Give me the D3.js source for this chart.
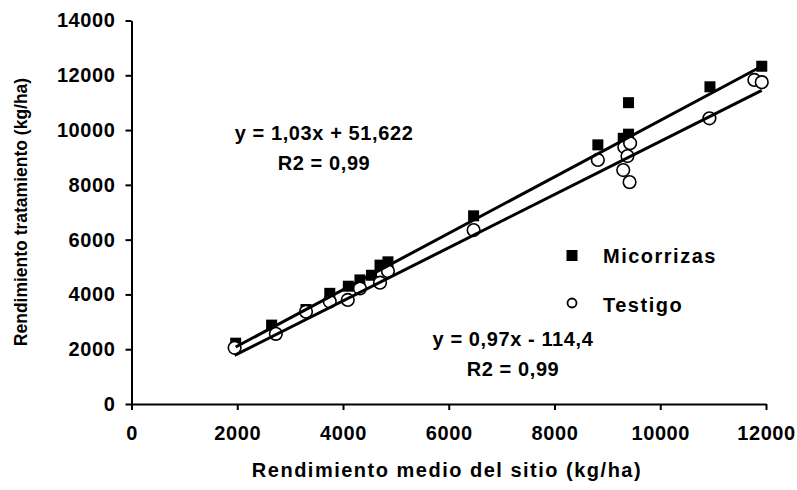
<!DOCTYPE html>
<html>
<head>
<meta charset="utf-8">
<script src="https://cdn.jsdelivr.net/npm/d3@7"></script>
<style>
  html, body { margin: 0; padding: 0; background: #fff; }
  svg text { font-family: "Liberation Sans", Arial, sans-serif; font-weight: bold; fill: #000; }
</style>
</head>
<body>
<svg id="chart" width="797" height="490"></svg>
<script>
// Rendimiento medio del sitio (x) and treatment yields (y), kg/ha
const sitioMicorrizas = [1970, 2650, 3300, 3750, 4100, 4320, 4540, 4700, 4850, 6470, 8820, 9300, 9400, 9400, 10940, 11920];
const micorrizas      = [2220, 2880, 3450, 4040, 4300, 4530, 4700, 5070, 5190, 6870, 9460, 9700, 9850, 11000, 11580, 12330];
const sitioTestigo    = [1950, 2730, 3300, 3750, 4090, 4320, 4700, 4850, 6470, 8820, 9320, 9430, 9380, 9300, 9420, 10930, 11780, 11920];
const testigo         = [2050, 2560, 3370, 3740, 3800, 4220, 4430, 4850, 6350, 8910, 9380, 9520, 9050, 8540, 8100, 10430, 11830, 11750];

// Linear fits: [slope, intercept]
const fitMicorrizas = [1.03, 51.622];
const fitTestigo = [0.97, -114.4];

const xTicks = [0, 2000, 4000, 6000, 8000, 10000, 12000];
const yTicks = [0, 2000, 4000, 6000, 8000, 10000, 12000, 14000];

const svg = d3.select("#chart");

const x = d3.scaleLinear().domain([0, 12000]).range([131.5, 766]);
const y = d3.scaleLinear().domain([0, 14000]).range([404, 20.5]);

// Axes
const xAxis = d3.axisBottom(x).tickValues(xTicks).tickSize(6).tickSizeOuter(0).tickFormat(d3.format("d")).tickPadding(16);
const yAxis = d3.axisLeft(y).tickValues(yTicks).tickSize(6).tickSizeOuter(0).tickFormat(d3.format("d")).tickPadding(10);

const gx = svg.append("g").attr("transform", "translate(0,404)").call(xAxis);
const gy = svg.append("g").attr("transform", "translate(131.5,0)").call(yAxis);

[gx, gy].forEach(g => {
  g.select(".domain").attr("stroke", "#000").attr("stroke-width", 2);
  g.selectAll(".tick line").attr("stroke", "#000").attr("stroke-width", 2);
  g.selectAll(".tick text").attr("font-size", 20).attr("letter-spacing", 0.6)
    .style("font-family", "'Liberation Sans', Arial, sans-serif").style("font-weight", "bold").attr("fill", "#000");
});
gx.selectAll(".tick text").attr("dy", "0.71em");

// Markers: Micorrizas (filled squares)
const sq = 11;
svg.append("g").selectAll("rect")
  .data(d3.zip(sitioMicorrizas, micorrizas))
  .join("rect")
  .attr("x", d => x(d[0]) - sq / 2)
  .attr("y", d => y(d[1]) - sq / 2)
  .attr("width", sq).attr("height", sq)
  .attr("fill", "#000");

// Markers: Testigo (open circles)
svg.append("g").selectAll("circle")
  .data(d3.zip(sitioTestigo, testigo))
  .join("circle")
  .attr("cx", d => x(d[0]))
  .attr("cy", d => y(d[1]))
  .attr("r", 6.3)
  .attr("fill", "#fff")
  .attr("stroke", "#000")
  .attr("stroke-width", 1.6);

// Trend lines
function trend(xs, fit) {
  const [lo, hi] = d3.extent(xs);
  return [[lo, fit[0] * lo + fit[1]], [hi, fit[0] * hi + fit[1]]];
}
const line = d3.line().x(d => x(d[0])).y(d => y(d[1]));
svg.append("path").attr("d", line(trend(sitioMicorrizas, fitMicorrizas)))
  .attr("stroke", "#000").attr("stroke-width", 3).attr("fill", "none");
svg.append("path").attr("d", line(trend(sitioTestigo, fitTestigo)))
  .attr("stroke", "#000").attr("stroke-width", 3).attr("fill", "none");

// Equation labels
function eqLabel(cx, by, lines) {
  lines.forEach((t, i) => {
    svg.append("text").attr("x", cx).attr("y", by + i * 30)
      .attr("text-anchor", "middle").attr("font-size", 20).attr("letter-spacing", 0.6).text(t);
  });
}
eqLabel(324, 140, ["y = 1,03x + 51,622", "R2 = 0,99"]);
eqLabel(513, 346, ["y = 0,97x - 114,4", "R2 = 0,99"]);

// Legend
svg.append("rect").attr("x", 566.5).attr("y", 250).attr("width", 11).attr("height", 11).attr("fill", "#000");
svg.append("text").attr("x", 603).attr("y", 263).attr("font-size", 20).attr("letter-spacing", 1.5).text("Micorrizas");
svg.append("circle").attr("cx", 572).attr("cy", 303).attr("r", 4.5)
  .attr("fill", "#fff").attr("stroke", "#000").attr("stroke-width", 1.8);
svg.append("text").attr("x", 603).attr("y", 312).attr("font-size", 20).attr("letter-spacing", 1.5).text("Testigo");

// Axis titles
svg.append("text").attr("x", 447).attr("y", 477).attr("text-anchor", "middle")
  .attr("font-size", 20).attr("letter-spacing", 1.5).text("Rendimiento medio del sitio (kg/ha)");
svg.append("text").attr("transform", "translate(27,212) rotate(-90)").attr("text-anchor", "middle")
  .attr("font-size", 17.5).text("Rendimiento tratamiento (kg/ha)");
</script>
</body>
</html>
